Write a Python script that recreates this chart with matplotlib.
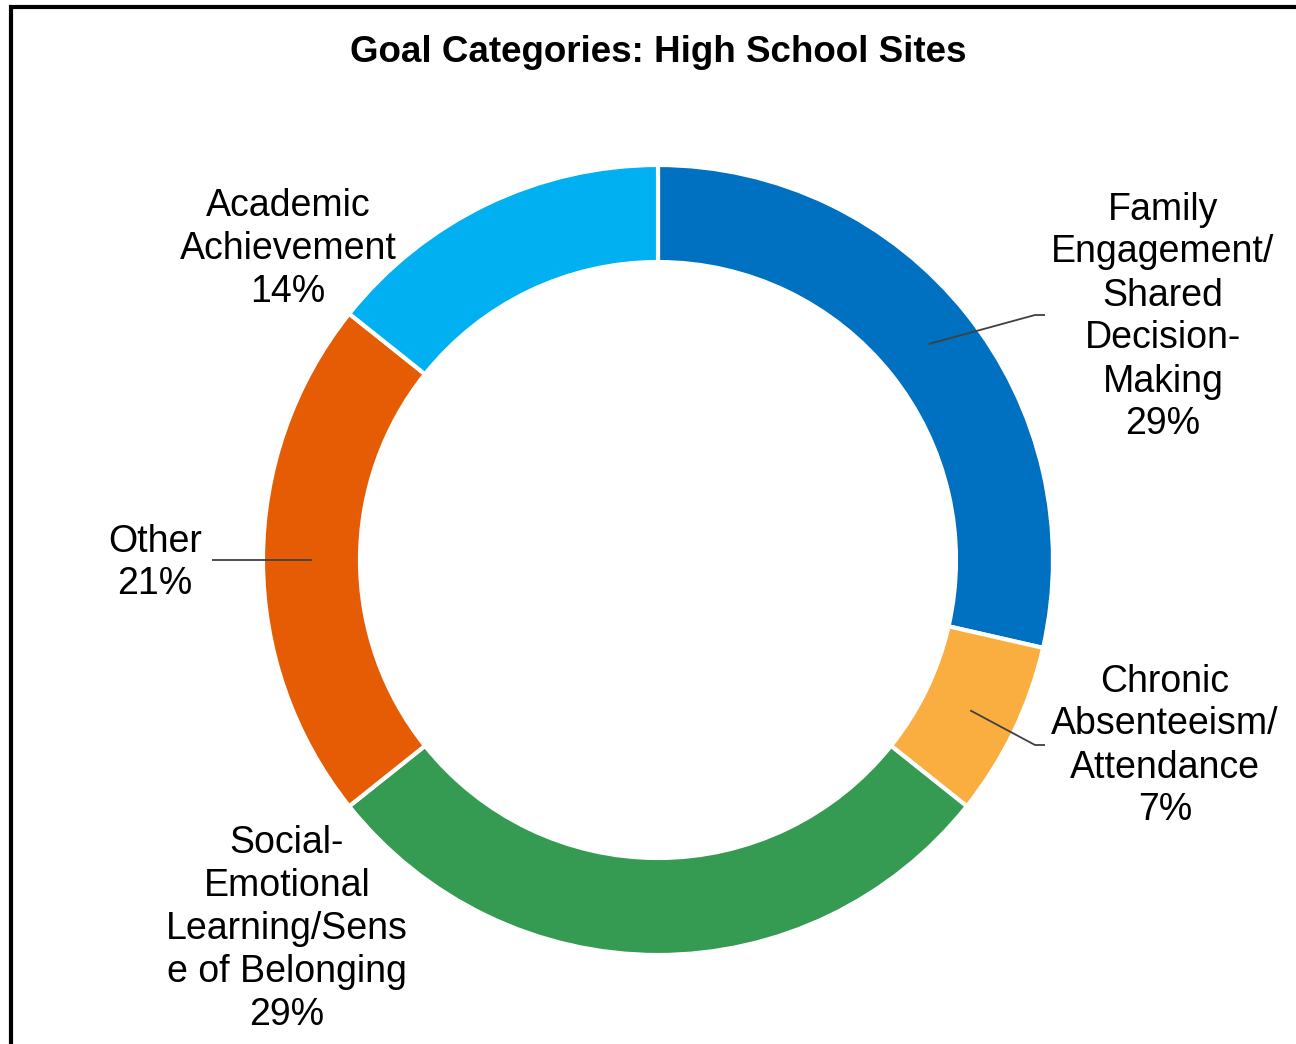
import numpy as np
import matplotlib
matplotlib.use("Agg")
import matplotlib.pyplot as plt
from matplotlib.patches import Rectangle

plt.rcParams['font.family'] = ['Liberation Sans', 'DejaVu Sans']

# data
categories = ['Family\nEngagement/\nShared\nDecision-\nMaking',
              'Chronic\nAbsenteeism/\nAttendance',
              'Social-\nEmotional\nLearning/Sens\ne of Belonging',
              'Other',
              'Academic\nAchievement']
counts = [4, 1, 4, 3, 2]
colors = ['#0070C0', '#FBAE40', '#359A52', '#E65C05', '#00B0F0']

W, H = 1296, 1044
fig = plt.figure(figsize=(W / 100, H / 100), dpi=100)
ax = fig.add_axes([0, 0, 1, 1])

cx, cy = 658, H - 560
r_out, r_in = 395, 298
wedges, _ = ax.pie(counts, colors=colors, startangle=90, counterclock=False,
                   radius=r_out, center=(cx, cy),
                   wedgeprops=dict(width=r_out - r_in, edgecolor='white', linewidth=3))
ax.set_xlim(0, W)
ax.set_ylim(0, H)
ax.set_aspect('auto')
ax.axis('off')

total = sum(counts)
pcts = ['%d%%' % round(100 * c / total) for c in counts]

# label centres (pixels from top-left) and leader line ends
label_pos = [(1163, 317), (1165, 746), (287, 929), (155, 563), (288, 249)]
leader_end = [(1035, 315, 1045), (1035, 745, 1045), None, (212, 560, 212), None]

for i, w in enumerate(wedges):
    mid = np.deg2rad((w.theta1 + w.theta2) / 2)
    rm = (r_out + r_in) / 2
    sx, sy = cx + rm * np.cos(mid), cy + rm * np.sin(mid)
    lx, ly = label_pos[i]
    ax.text(lx, H - ly, categories[i] + '\n' + pcts[i], ha='center', va='center',
            fontsize=27, linespacing=1.25, color='black')
    if leader_end[i] is not None:
        ex, ey, ex2 = leader_end[i]
        ax.plot([sx, ex, ex2], [sy, H - ey, H - ey], color='#404040', lw=1.3,
                solid_capstyle='butt')

ax.text(W / 2 + 10, H - 52, 'Goal Categories: High School Sites', ha='center',
        va='center', fontsize=26.5, fontweight='bold')

# outer frame (only left and top visible)
ax.add_patch(Rectangle((11, -200), 3000, H - 7 + 200, fill=False,
                       edgecolor='black', lw=3, clip_on=False))

fig.savefig('out.png', dpi=100)
